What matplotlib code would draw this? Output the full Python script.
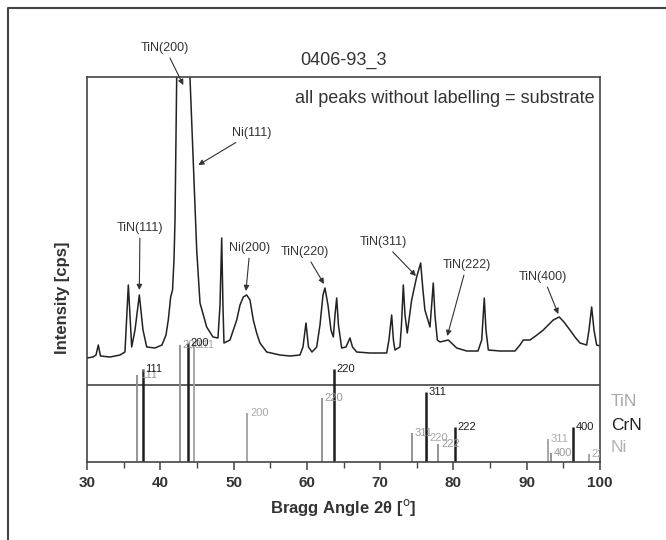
import matplotlib
matplotlib.use('Agg')
from matplotlib import pyplot as plt
from matplotlib.lines import Line2D
from matplotlib.ticker import MultipleLocator

plt.rcParams['font.family'] = ['Liberation Sans', 'DejaVu Sans']

# measured XRD scan, 2theta [deg] and intensity (arbitrary cps units)
two_theta = [30.00, 30.82, 31.23, 31.54, 31.84, 33.14, 34.50, 35.18, 35.64, 36.10,
             36.55, 37.14, 37.64, 38.15, 39.28, 40.23, 40.78, 41.09, 41.42, 41.67,
             41.87, 42.01, 42.24, 42.90, 44.05, 44.97, 45.42, 46.33, 47.19, 47.87,
             48.15, 48.38, 48.55, 48.69, 49.51, 50.43, 50.88, 51.33, 51.79, 52.24,
             52.69, 53.15, 53.60, 54.52, 56.33, 57.70, 59.06, 59.47, 59.88, 60.22,
             60.70, 61.34, 61.79, 62.20, 62.47, 62.88, 63.29, 63.61, 63.84, 64.07,
             64.31, 64.75, 65.34, 65.88, 66.23, 66.80, 68.61, 70.89, 71.20, 71.57,
             71.81, 72.02, 72.70, 72.91, 73.16, 73.39, 73.70, 74.30, 74.98, 75.53,
             75.84, 76.11, 76.80, 77.03, 77.25, 77.48, 77.80, 78.17, 79.30, 80.45,
             81.81, 83.35, 83.86, 84.21, 84.44, 84.76, 86.35, 88.40, 89.08, 89.53,
             90.45, 91.40, 92.26, 93.62, 94.44, 95.08, 95.90, 96.58, 97.27, 98.18,
             98.50, 98.86, 99.18, 99.54, 100.00]
intensity = [27, 28, 30, 40, 29, 28, 30, 33, 100, 38,
             55, 90, 55, 38, 37, 40, 50, 65, 88, 95,
             125, 165, 308, 470, 308, 135, 82, 58, 48, 47,
             80, 147, 80, 42, 45, 65, 80, 88, 90, 85,
             65, 52, 42, 33, 30, 29, 30, 38, 62, 38,
             33, 38, 60, 90, 97, 80, 55, 48, 70, 87,
             60, 37, 38, 47, 38, 33, 32, 32, 45, 70,
             45, 35, 38, 60, 100, 70, 52, 85, 108, 122,
             95, 75, 58, 80, 102, 70, 45, 43, 45, 37,
             34, 34, 45, 87, 55, 35, 34, 34, 40, 45,
             45, 50, 55, 65, 68, 63, 55, 48, 42, 40,
             55, 78, 55, 40, 39]

# reference patterns: positions, relative heights, hkl
tin_pos = [36.87, 42.69, 62.00, 74.30, 77.96, 93.30]
tin_h = [87, 117, 64, 29, 18, 9]
tin_hkl = ['111', '200', '220', '311', '222', '400']

crn_pos = [37.60, 43.74, 63.70, 76.25, 80.20, 96.35]
crn_h = [93, 119, 93, 70, 35, 35]
crn_hkl = ['111', '200', '220', '311', '222', '400']

ni_pos = [44.60, 51.87, 76.40, 92.90, 98.50]
ni_h = [117, 49, 24, 23, 8]
ni_hkl = ['111', '200', '220', '311', '222']

# peak annotations: label, text position, arrow tip
peak_labels = ['TiN(200)', 'Ni(111)', 'TiN(111)', 'Ni(200)', 'TiN(220)',
               'TiN(311)', 'TiN(222)', 'TiN(400)']
label_xy = [(40.64, 414), (52.47, 329), (37.23, 234), (52.24, 214), (59.75, 210),
            (70.43, 220), (81.81, 197), (92.26, 185)]
tip_xy = [(43.14, 377), (45.19, 297), (37.14, 172), (51.69, 171), (62.34, 178),
          (74.89, 186), (79.16, 126), (94.31, 148)]

W, H = 666, 540
fig = plt.figure(figsize=(W / 100, H / 100), dpi=100)

# outer frame (only left and top edges visible)
fig.add_artist(Line2D([8 / W, 8 / W, 1], [0, 1 - 8 / H, 1 - 8 / H],
                      transform=fig.transFigure, color='#444444', lw=1.5))

ax = fig.add_axes([87 / W, 1 - 462 / H, (600 - 87) / W, (462 - 77) / H])
offset = 77  # scan sits on top of the stick panel
ax.plot(two_theta, [v + offset for v in intensity], color='#222222', lw=1.1)
ax.axhline(offset, color='#444444', lw=1.2)

ax.set_xlim(30, 100)
ax.set_ylim(0, 385)

for pos, h, hkl, col, tcol, lw in [
        (tin_pos, tin_h, tin_hkl, '#8c8c8c', '#999999', 1.3),
        (ni_pos, ni_h, ni_hkl, '#a0a0a0', '#aaaaaa', 1.3),
        (crn_pos, crn_h, crn_hkl, '#1e1e1e', '#1e1e1e', 1.8)]:
    ax.vlines(pos, 0, h, colors=col, lw=lw)
    for x, y, s in zip(pos, h, hkl):
        ax.annotate(s, (x, y), xytext=(2, 0), textcoords='offset points',
                    ha='left', va='center', fontsize=8, color=tcol,
                    annotation_clip=False, clip_on=True)

for s, xt, xy in zip(peak_labels, label_xy, tip_xy):
    ax.annotate(s, xy=xy, xytext=xt, ha='center', va='center', fontsize=9,
                color='#333333', annotation_clip=False,
                arrowprops=dict(arrowstyle='-|>', color='#333333', lw=0.8,
                                mutation_scale=8, shrinkA=1, shrinkB=0))

ax.text(0.99, 0.945, 'all peaks without labelling = substrate', transform=ax.transAxes,
        ha='right', va='center', fontsize=13, color='#333333')
fig.text(343.5 / W, 1 - 60 / H, '0406-93_3', ha='center', va='center',
         fontsize=13, color='#333333')

for sp in ax.spines.values():
    sp.set_color('#444444')
    sp.set_linewidth(1.2)

ax.xaxis.set_major_locator(MultipleLocator(10))
ax.xaxis.set_minor_locator(MultipleLocator(5))
ax.tick_params(axis='x', which='major', direction='out', length=6, width=1.1,
               color='#444444', labelsize=11, labelcolor='#333333', pad=4)
ax.tick_params(axis='x', which='minor', direction='out', length=4, width=1.0,
               color='#444444')
ax.tick_params(axis='y', left=False, labelleft=False)
for lab in ax.get_xticklabels():
    lab.set_fontweight('bold')

fig.text(343.5 / W, 1 - 508 / H, 'Bragg Angle 2θ [$^{\\mathrm{o}}$]', ha='center',
         va='center', fontsize=12, fontweight='bold', color='#333333')
fig.text(63 / W, 1 - 298 / H, 'Intensity [cps]', ha='center', va='center',
         rotation=90, fontsize=12, fontweight='bold', color='#333333')

for s, y, c in [('TiN', 402, '#a8a8a8'), ('CrN', 425, '#222222'), ('Ni', 447, '#b0b0b0')]:
    fig.text(611 / W, 1 - y / H, s, ha='left', va='center', fontsize=12.5, color=c)

fig.savefig('out.png', dpi=100)
